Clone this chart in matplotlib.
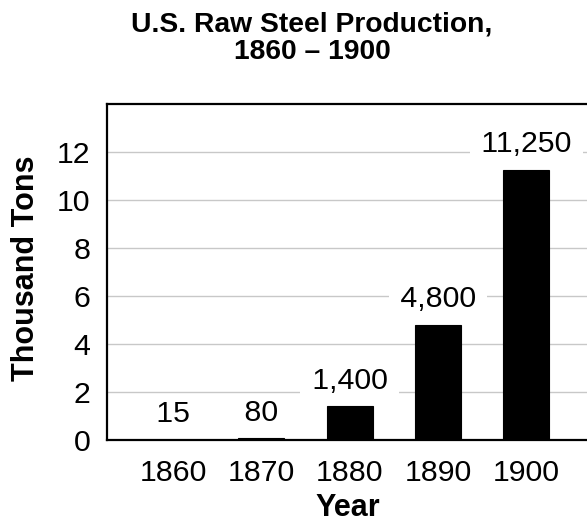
import matplotlib
matplotlib.use("Agg")
import matplotlib.pyplot as plt

plt.rcParams['font.family'] = ['Liberation Sans', 'DejaVu Sans']

years = ["1860", "1870", "1880", "1890", "1900"]
values = [15, 80, 1400, 4800, 11250]  # thousand tons
labels = ["15", "80", "1,400", "4,800", "11,250"]
yticks = [0, 2, 4, 6, 8, 10, 12]

fig = plt.figure(figsize=(5.87, 5.27), dpi=100)
ax = fig.add_axes([107/587, 87/527, 480/587, 336/527])

x = list(range(len(years)))
heights = [v / 1000 for v in values]
ax.bar(x, heights, width=0.52, color='black', edgecolor='black', linewidth=0.8, zorder=3)

ax.set_xlim(-0.75, 4.69)
ax.set_ylim(0, 14)
ax.set_yticks(yticks)
ax.set_xticks(x)
ax.set_xticklabels(years)
ax.tick_params(axis='both', length=0, labelsize=21.8)
ax.tick_params(axis='x', pad=13.5)
ax.tick_params(axis='y', pad=12)

for yv in yticks[1:]:
    ax.axhline(yv, color='#c8c8c8', linewidth=1.0, zorder=1)

for sp in ax.spines.values():
    sp.set_linewidth(1.6)
    sp.set_color('black')
ax.spines['right'].set_visible(False)

for xi, h, lab in zip(x, heights, labels):
    ax.annotate(" " + lab + " ", (xi, h), xytext=(0, 12.6), textcoords='offset points',
                ha='center', va='baseline', fontsize=21.8, zorder=4,
                bbox=dict(boxstyle='square,pad=0.1', fc='white', ec='none'))

fig.text(348/587, 1 - 508/527, "Year", fontsize=22, fontweight='bold',
         ha='center', va='center')
fig.text(26/587, 1 - 268.5/527, "Thousand Tons", fontsize=22, fontweight='bold',
         ha='center', va='center', rotation=90)

fig.text(312/587, 1 - 38/527, "U.S. Raw Steel Production,\n1860 \u2013 1900",
         ha='center', va='center', fontsize=20.3, fontweight='bold',
         linespacing=1.1, multialignment='center')

fig.savefig("out.png", dpi=100)
